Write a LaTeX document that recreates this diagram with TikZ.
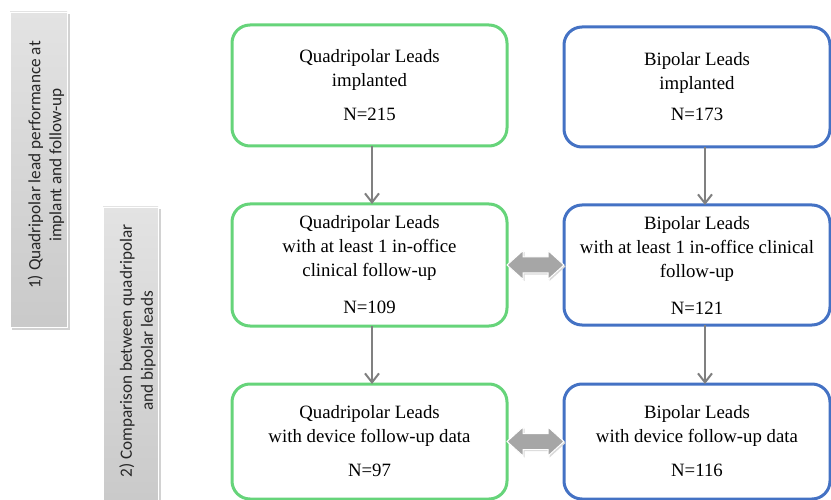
\documentclass[tikz,border=0pt]{standalone}
\usepackage{fontspec}
\setmainfont{Liberation Serif}
\newfontfamily\barfont{Carlito}
\usetikzlibrary{arrows.meta,calc}
\definecolor{grn}{RGB}{102,212,122}
\definecolor{blu}{RGB}{68,114,196}
\definecolor{arrgray}{RGB}{128,128,128}
\definecolor{blockgray}{RGB}{166,166,166}
\begin{document}
\begin{tikzpicture}[x=1pt,y=-1pt,
  box/.style={rounded corners=18pt, line width=3pt, fill=white, inner sep=0pt, outer sep=0pt,
    align=center, font=\fontsize{18.8}{24}\selectfont},
  gbox/.style={box, draw=grn, minimum width=275pt},
  bbox/.style={box, draw=blu, minimum width=266pt},
  flow/.style={draw=arrgray, line width=2pt, -{Straight Barb[length=9pt,width=14pt]}},
  bartext/.style={rotate=90, align=center, font=\barfont\fontsize{17.2}{21}\selectfont,
    text=black!85, inner sep=0pt},
  barfill/.style={top color=gray!22, bottom color=gray!42, draw=white, line width=0.8pt},
  barshadow/.style={fill=gray!35},
  blockarrow/.style={fill=blockgray, draw=white, line width=1pt},
  blockshadow/.style={fill=gray!30}
  ]
\useasboundingbox (0,0) rectangle (831,500);

% side bars
\fill[barshadow] (12,14) rectangle (69.5,329.5);
\shade[barfill] (10,12) rectangle (67,327);
\fill[barshadow] (105,209) rectangle (160.5,510);
\shade[barfill] (103,207) rectangle (158,505);
\node[bartext] (t1) at (46,165) {1) Quadripolar lead performance at\\implant and follow-up};
\node[bartext] (t2) at (137.5,351) {2) Comparison between quadripolar\\and bipolar leads};

% boxes
\node[gbox, minimum height=121pt] (g1) at (369.5,85.5) {Quadripolar Leads\\implanted\\[10pt]N=215};
\node[gbox, minimum height=122pt] (g2) at (369.5,265) {Quadripolar Leads\\with at least 1 in-office\\clinical follow-up\\[13pt]N=109};
\node[gbox, minimum height=115pt] (g3) at (369.5,441.5) {Quadripolar Leads\\with device follow-up data\\[10pt]N=97};
\node[bbox, minimum height=120pt] (b1) at (697,87) {Bipolar Leads\\implanted\\[7pt]N=173};
\node[bbox, minimum height=120pt] (b2) at (697,265) {Bipolar Leads\\with at least 1 in-office clinical\\follow-up\\[13pt]N=121};
\node[bbox, minimum height=115pt] (b3) at (697,441.5) {Bipolar Leads\\with device follow-up data\\[10pt]N=116};

% vertical arrows
\draw[flow] ([xshift=2.5pt]g1.south) -- ([xshift=2.5pt]g2.north);
\draw[flow] ([xshift=2.5pt]g2.south) -- ([xshift=2.5pt]g3.north);
\draw[flow] ([xshift=8pt]b1.south) -- ([xshift=8pt]b2.north);
\draw[flow] ([xshift=8pt]b2.south) -- ([xshift=8pt]b3.north);

% double block arrows
\foreach \a/\b in {g2/b2, g3/b3}{
  \fill[blockshadow] ($(\a.east)+(1.5,1.5)$) -- ($(\a.east)+(17.5,-13)$) -- ($(\a.east)+(17.5,-6.5)$)
    -- ($(\b.west)+(-14.5,-6.5)$) -- ($(\b.west)+(-14.5,-13)$) -- ($(\b.west)+(1.5,1.5)$)
    -- ($(\b.west)+(-14.5,16)$) -- ($(\b.west)+(-14.5,9.5)$) -- ($(\a.east)+(17.5,9.5)$)
    -- ($(\a.east)+(17.5,16)$) -- cycle;
  \path[blockarrow] (\a.east) -- ($(\a.east)+(16,-14.5)$) -- ($(\a.east)+(16,-8)$)
    -- ($(\b.west)+(-16,-8)$) -- ($(\b.west)+(-16,-14.5)$) -- (\b.west)
    -- ($(\b.west)+(-16,14.5)$) -- ($(\b.west)+(-16,8)$) -- ($(\a.east)+(16,8)$)
    -- ($(\a.east)+(16,14.5)$) -- cycle;
}
\end{tikzpicture}
\end{document}
